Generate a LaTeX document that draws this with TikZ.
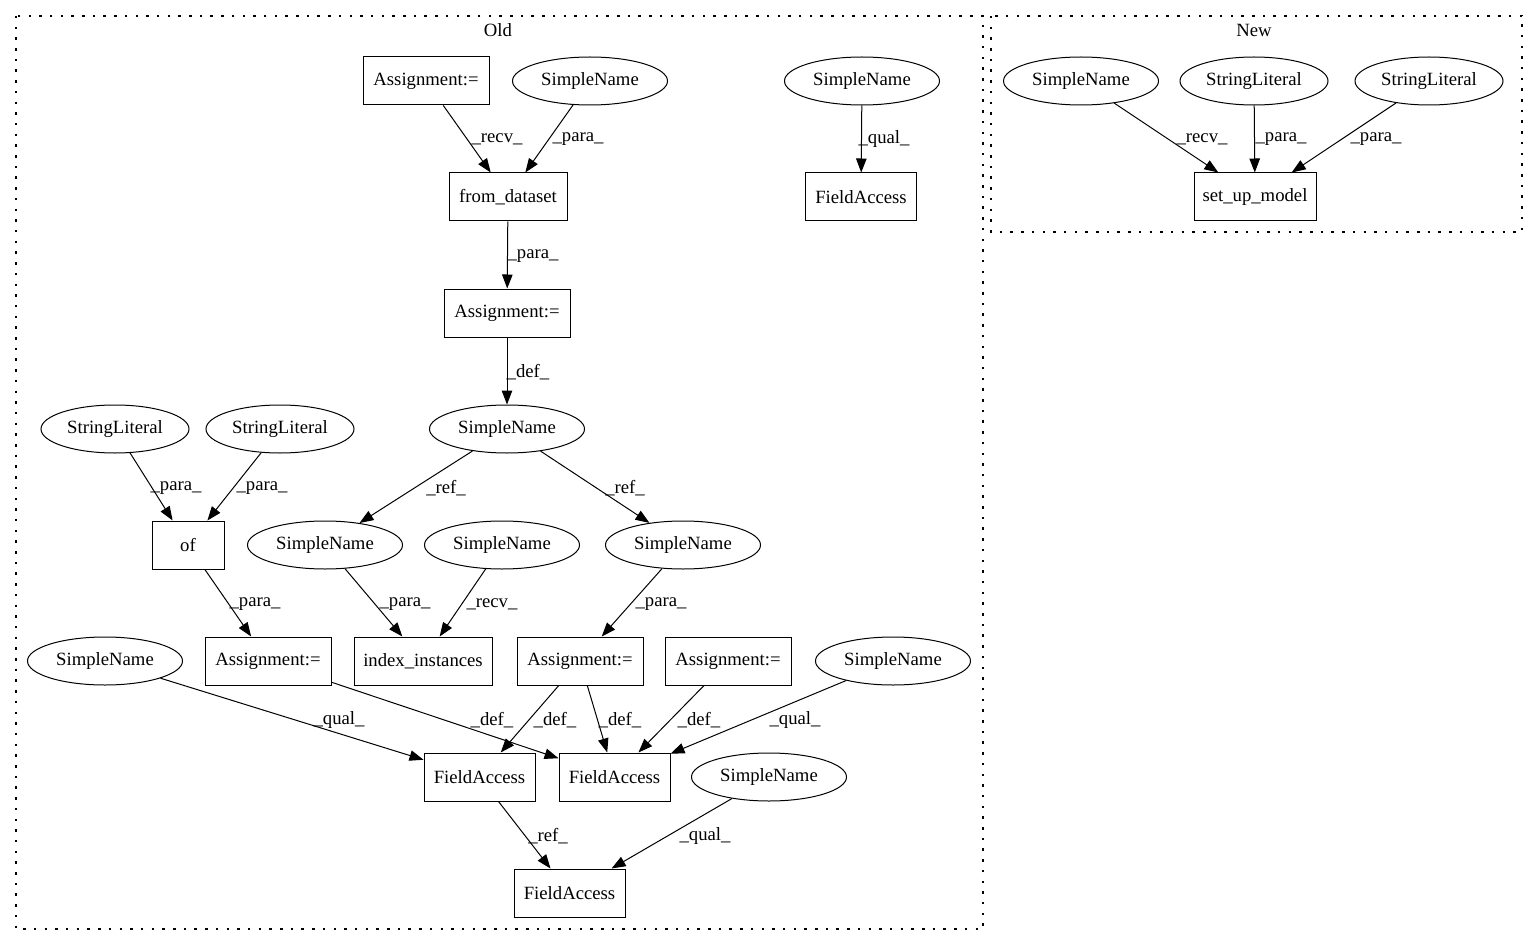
\documentclass[tikz,border=0pt]{standalone}
\usepackage{fontspec}
\setmainfont{Liberation Serif}
\usetikzlibrary{arrows.meta,shapes.geometric}
\begin{document}
\begin{tikzpicture}[x=1pt,y=-1pt,
  every node/.style={font=\fontsize{18.7}{22}\selectfont},
  box/.style={draw,rectangle,line width=1pt,minimum height=48pt,inner sep=0pt},
  oval/.style={draw,ellipse,line width=1pt,minimum height=48pt,inner sep=0pt},
  sn/.style={oval,minimum width=155pt},
  sl/.style={oval,minimum width=148pt},
  lbl/.style={inner sep=0pt},
  edge/.style={line width=1pt,-{Triangle[length=14pt,width=10.5pt]}},
  cluster/.style={line width=1.2pt,dash pattern=on 2.5pt off 8.2pt}]
\useasboundingbox (0,0) rectangle (1531,944);
\draw[cluster] (16,16) rectangle (983,929);
\draw[cluster] (991,16) rectangle (1522,232);
\node (oldlbl) at (498,30) {Old};
\node (newlbl) at (1254,30) {New};
% Old cluster
\node[box,minimum width=126pt] (a1) at (426,81) {Assignment:=};
\node[sn] (s1) at (590,81) {SimpleName};
\node[sn] (s2) at (862,81) {SimpleName};
\node[box,minimum width=118pt] (fd) at (508,197) {from\_dataset};
\node[box,minimum width=111pt] (fa0) at (861,197) {FieldAccess};
\node[box,minimum width=126pt] (a2) at (507,313) {Assignment:=};
\node[sn] (s3) at (507,429) {SimpleName};
\node[sl] (l1) at (115,429) {StringLiteral};
\node[sl] (l2) at (280,429) {StringLiteral};
\node[box,minimum width=72pt] (of) at (188,545) {of};
\node[sn] (s4) at (325,545) {SimpleName};
\node[sn] (s5) at (502,545) {SimpleName};
\node[sn] (s6) at (683,545) {SimpleName};
\node[sn] (s7) at (105,661) {SimpleName};
\node[box,minimum width=126pt] (a3) at (268,661) {Assignment:=};
\node[box,minimum width=138pt] (ii) at (423,661) {index\_instances};
\node[box,minimum width=126pt] (a4) at (580,661) {Assignment:=};
\node[box,minimum width=126pt] (a5) at (728,661) {Assignment:=};
\node[sn] (s8) at (893,661) {SimpleName};
\node[box,minimum width=111pt] (fa1) at (479.5,777) {FieldAccess};
\node[box,minimum width=111pt] (fa2) at (614.5,777) {FieldAccess};
\node[sn] (s9) at (769,777) {SimpleName};
\node[box,minimum width=111pt] (fa3) at (569.5,893) {FieldAccess};
% New cluster
\node[sn] (n1) at (1081,81) {SimpleName};
\node[sl] (n2) at (1254,81) {StringLiteral};
\node[sl] (n3) at (1429,81) {StringLiteral};
\node[box,minimum width=122pt] (sum) at (1255,197) {set\_up\_model};
% edges
\draw[edge] (a1) -- (fd);
\node[lbl] (e1) at (497,139) {\_recv\_};
\draw[edge] (s1) -- (fd);
\node[lbl] (e2) at (578,139) {\_para\_};
\draw[edge] (s2) -- (fa0);
\node[lbl] (e3) at (884,139) {\_qual\_};
\draw[edge] (fd) -- (a2);
\node[lbl] (e4) at (533,256) {\_para\_};
\draw[edge] (a2) -- (s3);
\node[lbl] (e5) at (528,372) {\_def\_};
\draw[edge] (l1) -- (of);
\node[lbl] (e6) at (176,488) {\_para\_};
\draw[edge] (l2) -- (of);
\node[lbl] (e7) at (262,488) {\_para\_};
\draw[edge] (s3) -- (s4);
\node[lbl] (e8) at (446,488) {\_ref\_};
\draw[edge] (s3) -- (s6);
\node[lbl] (e9) at (625,488) {\_ref\_};
\draw[edge] (of) -- (a3);
\node[lbl] (e10) at (255,604) {\_para\_};
\draw[edge] (s4) -- (ii);
\node[lbl] (e11) at (405,604) {\_para\_};
\draw[edge] (s5) -- (ii);
\node[lbl] (e12) at (492,604) {\_recv\_};
\draw[edge] (s6) -- (a4);
\node[lbl] (e13) at (661,604) {\_para\_};
\draw[edge] (s7) -- (fa1);
\node[lbl] (e14) at (339,720) {\_qual\_};
\draw[edge] (a3) -- (fa2);
\node[lbl] (e15) at (492,720) {\_def\_};
\draw[edge] (a4) -- (fa1);
\node[lbl] (e16) at (555,720) {\_def\_};
\draw[edge] (a4) -- (fa2);
\node[lbl] (e17) at (620,720) {\_def\_};
\draw[edge] (a5) -- (fa2);
\node[lbl] (e18) at (699,720) {\_def\_};
\draw[edge] (s8) -- (fa2);
\node[lbl] (e19) at (795,720) {\_qual\_};
\draw[edge] (fa1) -- (fa3);
\node[lbl] (e20) at (548,836) {\_ref\_};
\draw[edge] (s9) -- (fa3);
\node[lbl] (e21) at (705,836) {\_qual\_};
\draw[edge] (n1) -- (sum);
\node[lbl] (e22) at (1202,139) {\_recv\_};
\draw[edge] (n2) -- (sum);
\node[lbl] (e23) at (1281,139) {\_para\_};
\draw[edge] (n3) -- (sum);
\node[lbl] (e24) at (1376,139) {\_para\_};
\end{tikzpicture}
\end{document}
